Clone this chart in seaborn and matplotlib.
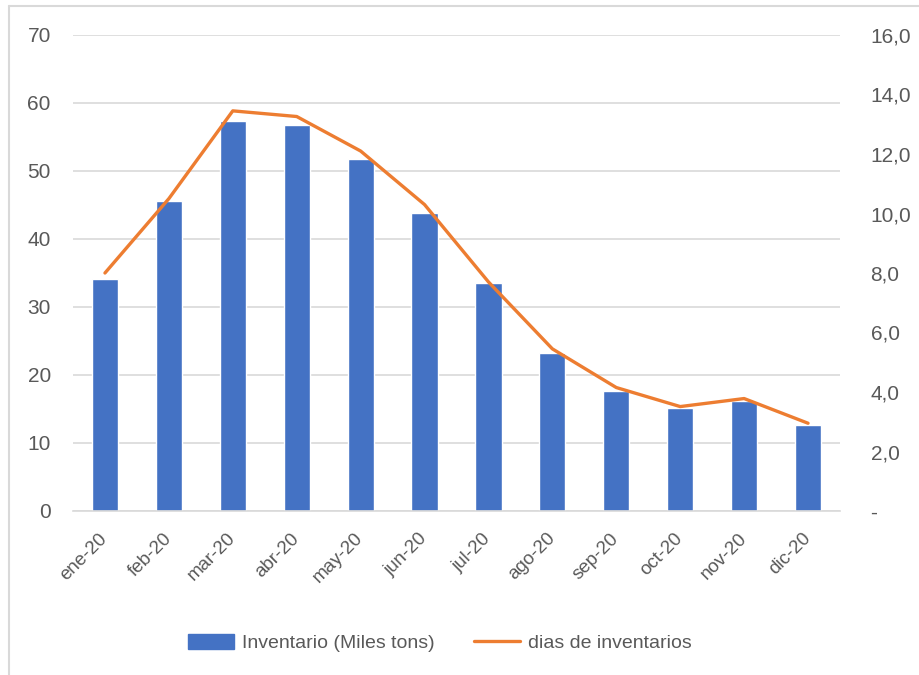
import numpy as np
import seaborn as sns
import matplotlib.pyplot as plt
from matplotlib.patches import Patch
from matplotlib.lines import Line2D
from matplotlib.ticker import FuncFormatter, FixedLocator

meses = ['ene-20', 'feb-20', 'mar-20', 'abr-20', 'may-20', 'jun-20',
         'jul-20', 'ago-20', 'sep-20', 'oct-20', 'nov-20', 'dic-20']
inventario = [34.1, 45.6, 57.4, 56.8, 51.8, 43.8, 33.6, 23.3, 17.7, 15.1, 16.2, 12.7]
dias = [8.0, 10.5, 13.45, 13.26, 12.1, 10.3, 7.7, 5.45, 4.15, 3.51, 3.78, 2.95]
left_ticks = [0, 10, 20, 30, 40, 50, 60, 70]
right_ticks = [0, 2, 4, 6, 8, 10, 12, 14, 16]

azul = '#4472C4'
naranja = '#ED7D31'
gris = '#595959'
grid = '#D9D9D9'

sns.set_theme(style='white')
plt.rcParams['font.family'] = ['Liberation Sans', 'DejaVu Sans']

fig = plt.figure(figsize=(9.2, 6.75), dpi=100)
ax = fig.add_axes([73 / 920, 1 - 511 / 675, (840 - 73) / 920, (511 - 35) / 675])

sns.barplot(x=meses, y=inventario, color=azul, saturation=1, width=0.41, ax=ax, zorder=2)
ax.set_xlim(-0.5, 11.5)
ax.set_ylim(0, 70)
ax.set_yticks(left_ticks)
ax.yaxis.grid(True, color=grid, lw=1.2)
ax.set_axisbelow(True)
for s in ['top', 'right', 'left']:
    ax.spines[s].set_visible(False)
ax.spines['bottom'].set_color(grid)
ax.spines['bottom'].set_linewidth(1.2)
ax.tick_params(axis='y', length=0, pad=16, labelsize=15, labelcolor=gris)
ax.tick_params(axis='x', which='major', length=0, pad=18, labelsize=13.5, labelcolor=gris)
ax.xaxis.set_minor_locator(FixedLocator(np.arange(-0.5, 12, 1)))
ax.tick_params(axis='x', which='minor', length=6, width=1.2, color=grid, direction='out')
for lab in ax.get_xticklabels():
    lab.set_rotation(45)
    lab.set_ha('right')
    lab.set_va('center')
    lab.set_rotation_mode('anchor')
ax.set_xlabel('')
ax.set_ylabel('')

ax2 = ax.twinx()
sns.lineplot(x=np.arange(len(dias)), y=dias, color=naranja, lw=2.4, ax=ax2)
ax2.set_ylim(0, 16)
ax2.set_yticks(right_ticks)
ax2.yaxis.set_major_formatter(FuncFormatter(
    lambda v, p: '-' if v == 0 else f'{v:.1f}'.replace('.', ',')))
ax2.tick_params(axis='y', length=0, pad=22, labelsize=15, labelcolor=gris)
for s in ax2.spines.values():
    s.set_visible(False)
ax2.set_ylabel('')

handles = [Patch(facecolor=azul, edgecolor=azul),
           Line2D([0], [0], color=naranja, lw=2.4)]
fig.legend(handles, ['Inventario (Miles tons)', 'dias de inventarios'],
           loc='center', bbox_to_anchor=(0.478, 0.047), ncol=2, frameon=False,
           fontsize=14, labelcolor=gris, handlelength=2.4, handleheight=0.8,
           handletextpad=0.4, columnspacing=2.0)

# chart border (only top and left visible in the crop)
fig.add_artist(Line2D([9 / 920, 9 / 920], [0, 1 - 6 / 675], color=grid, lw=1.5,
                      transform=fig.transFigure))
fig.add_artist(Line2D([9 / 920, 1], [1 - 6 / 675, 1 - 6 / 675], color=grid, lw=1.5,
                      transform=fig.transFigure))

fig.savefig('out.png', dpi=100)
